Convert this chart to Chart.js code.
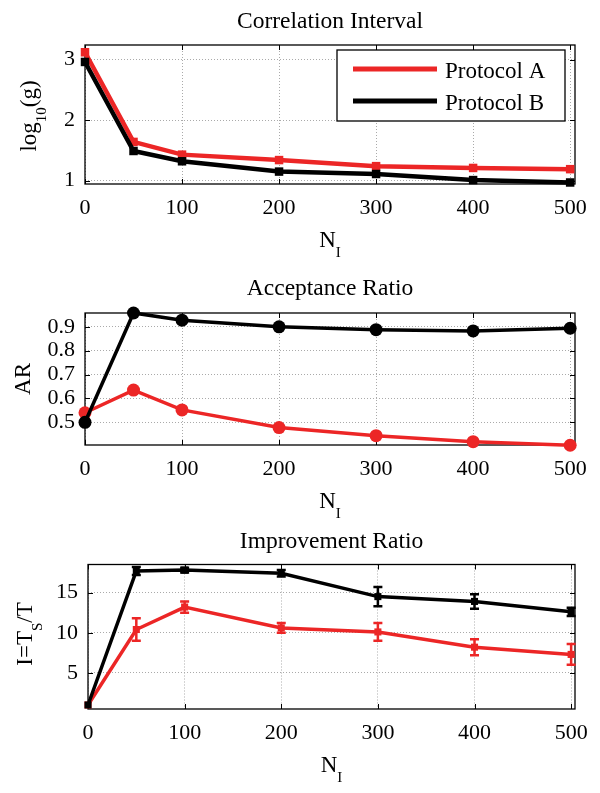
<!DOCTYPE html>
<html>
<head>
<meta charset="utf-8">
<script src="https://cdn.jsdelivr.net/npm/chart.js@4.4.1/dist/chart.umd.min.js"></script>
<style>
body { margin: 0; background: #fff; width: 600px; height: 793px; overflow: hidden; }
canvas { position: absolute; left: 0; }
</style>
</head>
<body>
<canvas id="c1" width="600" height="262" style="top:0px"></canvas>
<canvas id="c2" width="600" height="268" style="top:262px"></canvas>
<canvas id="c3" width="600" height="263" style="top:530px"></canvas>
<script>
// data
const nI = [0, 50, 100, 200, 300, 400, 500];
const xTicks = [0, 100, 200, 300, 400, 500];
const seriesNames = ["Protocol A", "Protocol B"];

// Correlation Interval, log10(g)
const corrA = [3.12, 1.64, 1.43, 1.34, 1.24, 1.21, 1.19];
const corrB = [2.96, 1.49, 1.32, 1.15, 1.11, 1.01, 0.97];
const corrTicks = [1, 2, 3];

// Acceptance Ratio
const arA = [0.54, 0.635, 0.552, 0.478, 0.444, 0.419, 0.404];
const arB = [0.50, 0.958, 0.928, 0.900, 0.888, 0.883, 0.894];
const arTicks = [0.5, 0.6, 0.7, 0.8, 0.9];

// Improvement Ratio with error bars
const impA = [1.0, 10.4, 13.2, 10.6, 10.1, 8.2, 7.3];
const impErrA = [0, 1.4, 0.7, 0.6, 1.1, 1.0, 1.3];
const impB = [1.0, 17.7, 17.8, 17.4, 14.5, 13.9, 12.6];
const impErrB = [0, 0.5, 0.3, 0.4, 1.2, 0.9, 0.5];
const impTicks = [5, 10, 15];

const RED = "#ec2626";
const BLACK = "#000000";
const FONT = '"Liberation Serif", "Times New Roman", serif';

// text with subscripts, centered on (cx, cy)
function richText(ctx, parts, cx, cy, size, vertical) {
    const sub = Math.round(size * 0.65);
    ctx.save();
    ctx.translate(cx, cy);
    if (vertical) ctx.rotate(-Math.PI / 2);
    ctx.fillStyle = "#000";
    ctx.textBaseline = "alphabetic";
    ctx.textAlign = "left";
    const widths = parts.map(pt => {
        ctx.font = (pt.sub ? sub : size) + "px " + FONT;
        return ctx.measureText(pt.t).width;
    });
    let x = -widths.reduce((s, w) => s + w, 0) / 2;
    const base = size * 0.33;
    parts.forEach((pt, i) => {
        ctx.font = (pt.sub ? sub : size) + "px " + FONT;
        ctx.fillText(pt.t, x, pt.sub ? base + size * 0.45 : base);
        x += widths[i];
    });
    ctx.restore();
}

function makeFrame(p) {
    return {
        id: "frame",
        beforeDatasetsDraw(chart) {
            const { ctx, chartArea: a, scales } = chart;
            ctx.save();
            ctx.strokeStyle = "#000";
            ctx.lineWidth = 1;
            ctx.beginPath();
            xTicks.forEach(v => {
                const x = Math.round(scales.x.getPixelForValue(v)) + 0.5;
                ctx.moveTo(x, a.bottom); ctx.lineTo(x, a.bottom - 5);
                ctx.moveTo(x, a.top); ctx.lineTo(x, a.top + 5);
            });
            p.yTicks.forEach(v => {
                const y = Math.round(scales.y.getPixelForValue(v)) + 0.5;
                ctx.moveTo(a.left, y); ctx.lineTo(a.left + 5, y);
                ctx.moveTo(a.right, y); ctx.lineTo(a.right - 5, y);
            });
            ctx.stroke();
            ctx.lineWidth = 1.3;
            ctx.strokeRect(a.left, a.top, a.right - a.left, a.bottom - a.top);
            ctx.restore();
        },
        afterDatasetsDraw(chart) {
            if (!p.errs) return;
            const { ctx, scales } = chart;
            ctx.save();
            chart.data.datasets.forEach((ds, i) => {
                const errs = p.errs[i];
                const meta = chart.getDatasetMeta(i);
                ctx.strokeStyle = ds.borderColor;
                ctx.lineWidth = 2.5;
                meta.data.forEach((el, j) => {
                    if (!errs[j]) return;
                    const v = ds.data[j].y;
                    const y1 = scales.y.getPixelForValue(v + errs[j]);
                    const y2 = scales.y.getPixelForValue(v - errs[j]);
                    ctx.beginPath();
                    ctx.moveTo(el.x, y1); ctx.lineTo(el.x, y2);
                    ctx.moveTo(el.x - 4.5, y1); ctx.lineTo(el.x + 4.5, y1);
                    ctx.moveTo(el.x - 4.5, y2); ctx.lineTo(el.x + 4.5, y2);
                    ctx.stroke();
                });
            });
            ctx.restore();
        },
        afterDraw(chart) {
            const { ctx, chartArea: a } = chart;
            const cx = (a.left + a.right) / 2;
            richText(ctx, [{ t: p.title }], cx, p.titleY, 23.5, false);
            richText(ctx, [{ t: "N" }, { t: "I", sub: 1 }], cx, a.bottom + 55, 23, false);
            richText(ctx, p.ylab, p.ylabX, p.ylabY, 23, true);
            if (p.legend) {
                const L = p.legend;
                ctx.save();
                ctx.fillStyle = "#fff";
                ctx.fillRect(L.x, L.y, L.w, L.h);
                ctx.strokeStyle = "#000";
                ctx.lineWidth = 1.3;
                ctx.strokeRect(L.x, L.y, L.w, L.h);
                chart.data.datasets.forEach((ds, i) => {
                    const y = L.y + 19 + i * 32;
                    ctx.strokeStyle = ds.borderColor;
                    ctx.lineWidth = 5;
                    ctx.beginPath();
                    ctx.moveTo(L.x + 16, y); ctx.lineTo(L.x + 100, y);
                    ctx.stroke();
                    ctx.fillStyle = "#000";
                    ctx.font = "23px " + FONT;
                    ctx.textBaseline = "alphabetic";
                    ctx.fillText(ds.label, L.x + 108, y + 23 * 0.33 + 1);
                });
                ctx.restore();
            }
        }
    };
}

function points(vals) {
    return nI.map((x, i) => ({ x: x, y: vals[i] }));
}

function makePanel(id, p) {
    const cv = document.getElementById(id);
    const H = cv.height;
    const ds = (label, vals, color, order) => ({
        label: label,
        data: points(vals),
        borderColor: color,
        backgroundColor: color,
        borderWidth: p.lw,
        pointStyle: p.style,
        pointRadius: p.pr,
        pointHoverRadius: p.pr,
        pointBorderWidth: 0,
        tension: 0,
        order: order,
        clip: false
    });
    const tickFont = { family: FONT, size: 22 };
    new Chart(cv, {
        type: "line",
        data: { datasets: [ds(seriesNames[0], p.a, RED, 1), ds(seriesNames[1], p.b, BLACK, 0)] },
        options: {
            responsive: false,
            animation: false,
            events: [],
            layout: { padding: { top: p.top, right: 25, left: 0, bottom: 0 } },
            plugins: { legend: { display: false }, tooltip: { enabled: false } },
            scales: {
                x: {
                    type: "linear", min: 0, max: p.xmax,
                    afterFit: s => { s.height = H - p.bottom; },
                    afterBuildTicks: s => { s.ticks = xTicks.map(v => ({ value: v })); },
                    ticks: { font: tickFont, color: "#000", padding: 11, maxRotation: 0, autoSkip: false },
                    grid: { color: "#aaa", drawTicks: false },
                    border: { display: false, dash: [1, 2] }
                },
                y: {
                    type: "linear", min: p.ymin, max: p.ymax,
                    afterFit: s => { s.width = p.left; },
                    afterBuildTicks: s => { s.ticks = p.yTicks.map(v => ({ value: v })); },
                    ticks: {
                        font: tickFont, color: "#000", padding: 10,
                        callback: v => p.dec ? v.toFixed(1) : String(v)
                    },
                    grid: { color: "#aaa", drawTicks: false },
                    border: { display: false, dash: [1, 2] }
                }
            }
        },
        plugins: [makeFrame(p)]
    });
}

makePanel("c1", {
    a: corrA, b: corrB, yTicks: corrTicks, ymin: 0.945, ymax: 3.24, dec: false,
    top: 45, bottom: 184, left: 85, xmax: 505,
    style: "rect", pr: 6, lw: 4.5,
    title: "Correlation Interval", titleY: 20,
    ylab: [{ t: "log" }, { t: "10", sub: 1 }, { t: "(g)" }], ylabX: 28, ylabY: 116,
    legend: { x: 337, y: 50, w: 228, h: 71 }
});

makePanel("c2", {
    a: arA, b: arB, yTicks: arTicks, ymin: 0.405, ymax: 0.958, dec: true,
    top: 51, bottom: 183, left: 85, xmax: 505,
    style: "circle", pr: 6.5, lw: 3.5,
    title: "Acceptance Ratio", titleY: 25,
    ylab: [{ t: "AR" }], ylabX: 22, ylabY: 117
});

makePanel("c3", {
    a: impA, b: impB, yTicks: impTicks, ymin: 0.5, ymax: 18.5, dec: false,
    top: 34.5, bottom: 179, left: 88, xmax: 504,
    style: "rect", pr: 5, lw: 3.5,
    errs: [impErrA, impErrB],
    title: "Improvement Ratio", titleY: 10,
    ylab: [{ t: "I=T" }, { t: "S", sub: 1 }, { t: "/T" }], ylabX: 24, ylabY: 104
});
</script>
</body>
</html>
